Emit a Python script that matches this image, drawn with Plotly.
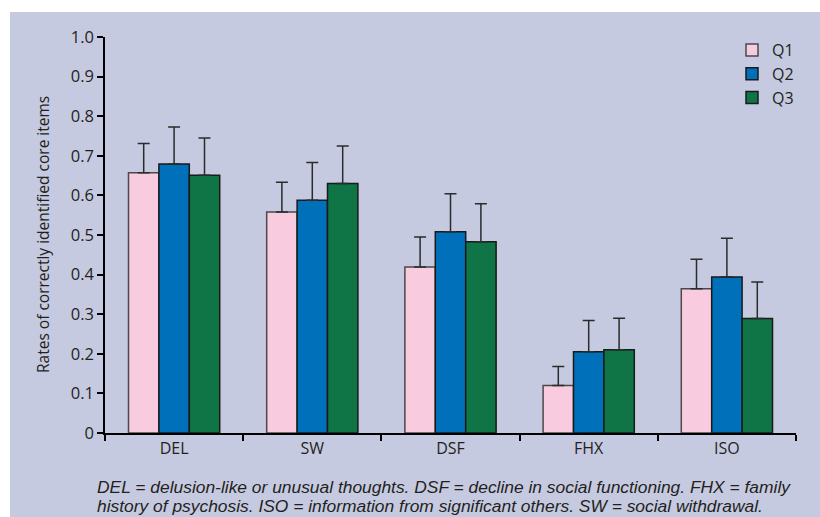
import plotly.graph_objects as go

# Core items and questionnaire rounds
categories = ["DEL", "SW", "DSF", "FHX", "ISO"]
series_names = ["Q1", "Q2", "Q3"]

# Mean rates of correctly identified core items
q1_rates = [0.657, 0.558, 0.419, 0.120, 0.364]
q2_rates = [0.679, 0.588, 0.508, 0.205, 0.394]
q3_rates = [0.651, 0.630, 0.483, 0.210, 0.289]

# Upper error (one-sided) for each bar
q1_err = [0.074, 0.075, 0.076, 0.048, 0.075]
q2_err = [0.094, 0.095, 0.096, 0.079, 0.098]
q3_err = [0.094, 0.095, 0.096, 0.080, 0.092]

y_ticks = [0, 0.1, 0.2, 0.3, 0.4, 0.5, 0.6, 0.7, 0.8, 0.9, 1.0]
y_tick_text = ["0", "0.1", "0.2", "0.3", "0.4", "0.5", "0.6", "0.7", "0.8", "0.9", "1.0"]

caption_lines = [
    "DEL = delusion-like or unusual thoughts. DSF = decline in social functioning. FHX = family",
    "history of psychosis. ISO = information from significant others. SW = social withdrawal.",
]

fills = ["#f8cbdf", "#0070ba", "#0f7446"]
edges = ["#4a4a4a", "#1a1a1a", "#1a1a1a"]
panel_bg = "#c6cae0"
ink = "#231f20"

fig = go.Figure()
for name, vals, errs, fill, edge in zip(series_names,
                                        [q1_rates, q2_rates, q3_rates],
                                        [q1_err, q2_err, q3_err],
                                        fills, edges):
    fig.add_trace(go.Bar(
        name=name, x=categories, y=vals,
        marker=dict(color=fill, line=dict(color=edge, width=1.5)),
        error_y=dict(type="data", symmetric=False, array=errs,
                     arrayminus=[0] * len(errs),
                     color="#2b2b2b", thickness=1.5, width=6),
    ))

L, R, T, B = 105, 24, 37, 84
W, H = 820, 517
pw, ph = W - L - R, H - T - B


def px_x(x):
    return (x - L) / pw


def px_y(y):
    return (H - B - y) / ph


annotations = [
    dict(text="Rates of correctly identified core items", textangle=-90,
         xref="paper", yref="paper", x=px_x(43), y=px_y(235),
         xanchor="center", yanchor="middle", showarrow=False,
         font=dict(size=15.5, color=ink)),
]
for i, line in enumerate(caption_lines):
    annotations.append(dict(
        text="<i>" + line + "</i>", xref="paper", yref="paper",
        x=px_x(95), y=px_y(487 + 18.5 * i),
        xanchor="left", yanchor="middle", align="left", showarrow=False,
        font=dict(family="Liberation Sans", size=17.4, color=ink)))

fig.update_layout(
    width=W, height=H,
    margin=dict(l=L, r=R, t=T, b=B),
    paper_bgcolor="white",
    plot_bgcolor="rgba(0,0,0,0)",
    barmode="group", bargap=0.34, bargroupgap=0,
    font=dict(family="Open Sans", size=15, color=ink),
    showlegend=True,
    legend=dict(x=px_x(732), y=px_y(33), xanchor="left", yanchor="top",
                bgcolor="rgba(0,0,0,0)", font=dict(size=16, color=ink),
                itemwidth=30, tracegroupgap=0),
    xaxis=dict(showline=True, linecolor="black", linewidth=1.5,
               ticks="outside", tickson="boundaries", ticklen=6, tickcolor="black",
               tickwidth=1.5, tickfont=dict(size=16, color=ink), showgrid=False),
    yaxis=dict(range=[0, 1.0], tickvals=y_ticks, ticktext=y_tick_text,
               showline=True, linecolor="black", linewidth=1.5,
               ticks="outside", ticklen=6, tickcolor="black", tickwidth=1.5,
               tickfont=dict(size=16.5, color=ink), showgrid=False, zeroline=False),
    shapes=[dict(type="rect", xref="paper", yref="paper", layer="below",
                 x0=px_x(10), x1=px_x(W + 5),
                 y0=px_y(H + 5), y1=px_y(12),
                 fillcolor=panel_bg, line=dict(width=0))],
    annotations=annotations,
)

fig.write_html("out.html")
